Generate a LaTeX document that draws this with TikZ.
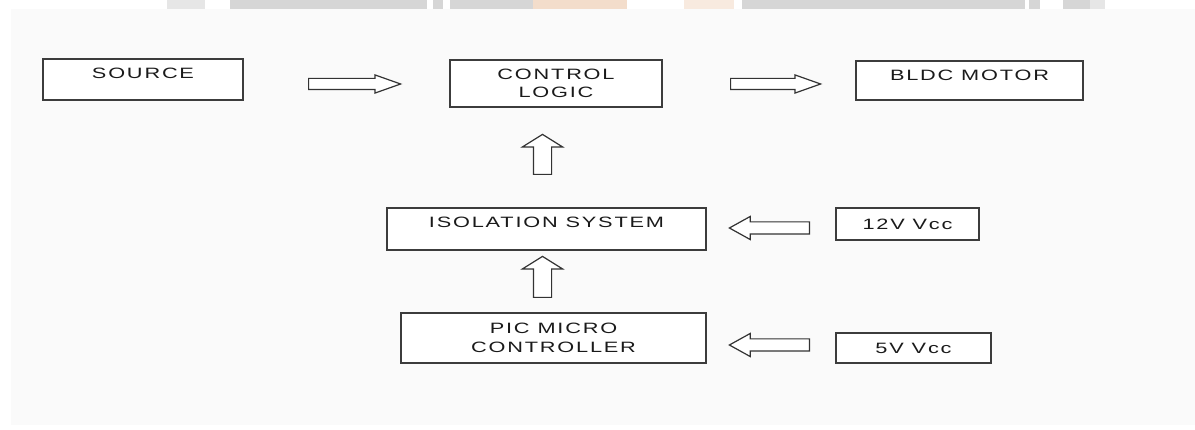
\documentclass[tikz,border=0pt]{standalone}
\usepackage{fontspec}
\setmainfont{Liberation Sans}[FakeStretch=1.45, LetterSpace=12]
\usetikzlibrary{shapes.arrows,calc}
\definecolor{bgcol}{HTML}{FAFAFA}
\definecolor{wmgray}{HTML}{D6D6D6}
\definecolor{wmlight}{HTML}{E6E6E6}
\definecolor{wmorange}{HTML}{F3DDCB}
\definecolor{wmorangel}{HTML}{F8EADF}
\definecolor{boxline}{HTML}{3C3C3C}
\definecolor{arrowline}{HTML}{333333}
\definecolor{txt}{HTML}{1A1A1A}
\tikzset{
  box/.style={draw=boxline, line width=1.6pt, fill=white, inner sep=0pt,
    align=center, text=txt, font=\fontsize{15}{18.5}\selectfont},
  oneline/.style={text height=11pt, text depth=#1},
  blockarrow/.style={single arrow, draw=arrowline, line width=1.2pt, fill=white,
    inner sep=0pt, single arrow head indent=0pt},
  harrow/.style={blockarrow, text width=10pt, text height=5pt, text depth=5pt,
    single arrow head extend=3.5pt, single arrow tip angle=39, minimum height=92pt},
  uarrow/.style={blockarrow, text width=17pt, text height=8.5pt, text depth=8.5pt,
    single arrow head extend=11pt, single arrow tip angle=116, minimum height=40pt,
    shape border rotate=90},
  larrow/.style={blockarrow, text width=11pt, text height=5.5pt, text depth=5.5pt,
    single arrow head extend=5.5pt, single arrow tip angle=58, minimum height=80pt,
    shape border rotate=180},
}
\begin{document}
\begin{tikzpicture}[x=1pt,y=-1pt]
\useasboundingbox (0,0) rectangle (1195,430);
% background and cut-off watermark band
\fill[white] (0,0) rectangle (1195,430);
\fill[bgcol] (11,9) rectangle (1195,425);
\fill[wmlight] (167,0) rectangle (205,9);
\fill[wmgray] (230,0) rectangle (427,9);
\fill[wmgray] (433,0) rectangle (443,9);
\fill[wmgray] (450,0) rectangle (533,9);
\fill[wmorange] (533,0) rectangle (627,9);
\fill[wmorangel] (684,0) rectangle (734,9);
\fill[wmgray] (742,0) rectangle (1025,9);
\fill[wmgray] (1029,0) rectangle (1040,9);
\fill[wmgray] (1063,0) rectangle (1090,9);
\fill[wmlight] (1090,0) rectangle (1105,9);

% boxes
\node[box, oneline=13.2pt, minimum width=200pt, minimum height=41pt] (src) at (143,79.5) {SOURCE};
\node[box, minimum width=212pt, minimum height=47pt] (ctl) at (556,83.5) {CONTROL\\LOGIC};
\node[box, oneline=10.2pt, minimum width=227pt, minimum height=39pt] (bldc) at (969.5,80.5) {BLDC MOTOR};
\node[box, oneline=14.2pt, minimum width=319pt, minimum height=42pt] (iso) at (546.5,229) {ISOLATION SYSTEM};
\node[box, oneline=0.2pt, minimum width=143pt, minimum height=32pt] (v12) at (907.5,224) {12V Vcc};
\node[box, minimum width=305pt, minimum height=50pt] (pic) at (553.5,338) {PIC MICRO\\CONTROLLER};
\node[box, oneline=0.2pt, minimum width=155pt, minimum height=30pt] (v5) at (913.5,348) {5V Vcc};

% block arrows
\node[harrow, anchor=tail] (a1) at (308,84) {};
\node[harrow, anchor=tail, minimum height=90pt] (a2) at (730,84) {};
\node[uarrow, anchor=tail] (u1) at (542.5,175) {};
\node[uarrow, anchor=tail, minimum height=41pt] (u2) at (542.5,298) {};
\node[larrow, anchor=tail] (l1) at (810,228) {};
\node[larrow, anchor=tail] (l2) at (810,345) {};
\end{tikzpicture}
\end{document}
